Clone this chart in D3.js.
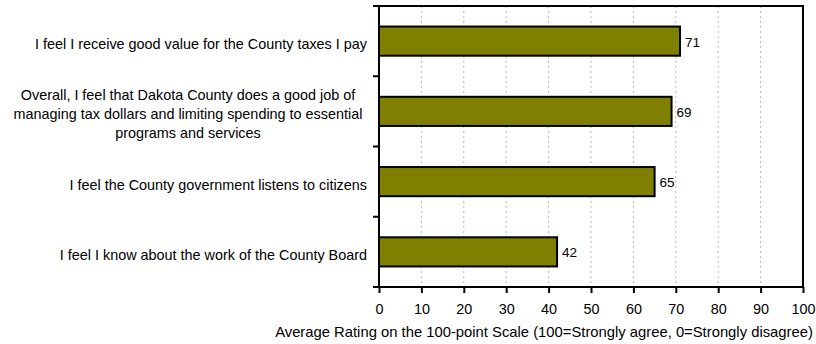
<!DOCTYPE html>
<html>
<head>
<meta charset="utf-8">
<script src="https://cdn.jsdelivr.net/npm/d3@7/dist/d3.min.js"></script>
<style>
  html, body { margin: 0; padding: 0; background: #fff; }
  svg { display: block; font-family: "Liberation Sans", Arial, sans-serif; }
</style>
</head>
<body>
<svg id="chart" width="816" height="344"></svg>
<script>
// Survey statements (each entry is a list of wrapped lines)
const categories = [
  ["I feel I receive good value for the County taxes I pay"],
  ["Overall, I feel that Dakota County does a good job of",
   "managing tax dollars and limiting spending to essential",
   "programs and services"],
  ["I feel the County government listens to citizens"],
  ["I feel I know about the work of the County Board"]
];
const ratings = [71, 69, 65, 42];
const tickValues = [0, 10, 20, 30, 40, 50, 60, 70, 80, 90, 100];
const axisTitle = "Average Rating on the 100-point Scale (100=Strongly agree, 0=Strongly disagree)";

const svg = d3.select("#chart");
const m = { left: 379, right: 803, top: 6, bottom: 287 };
const fontSize = 14.4;

const x = d3.scaleLinear().domain([0, 100]).range([m.left, m.right]);
const y = d3.scaleBand()
  .domain(d3.range(categories.length))
  .range([m.top, m.bottom])
  .paddingInner(0.585)
  .paddingOuter(0.2925);

// vertical dotted gridlines
svg.append("g")
  .selectAll("line")
  .data(tickValues.filter(d => d > 0 && d < 100))
  .join("line")
  .attr("x1", d => x(d)).attr("x2", d => x(d))
  .attr("y1", m.top).attr("y2", m.bottom)
  .attr("stroke", "#b8b8b8")
  .attr("stroke-width", 1)
  .attr("stroke-dasharray", "2,3");

// bars
svg.append("g")
  .selectAll("rect")
  .data(ratings)
  .join("rect")
  .attr("x", x(0))
  .attr("y", (d, i) => y(i))
  .attr("width", d => x(d) - x(0))
  .attr("height", y.bandwidth())
  .attr("fill", "#808000")
  .attr("stroke", "#000")
  .attr("stroke-width", 2);

// value labels
svg.append("g")
  .selectAll("text")
  .data(ratings)
  .join("text")
  .attr("x", d => x(d) + 5)
  .attr("y", (d, i) => y(i) + y.bandwidth() / 2 + 1)
  .attr("dominant-baseline", "central")
  .attr("font-size", 13.5)
  .attr("fill", "#000")
  .text(d => d);

// plot frame (top and right)
svg.append("path")
  .attr("d", `M${m.left},${m.top}H${m.right}V${m.bottom}`)
  .attr("fill", "none")
  .attr("stroke", "#000")
  .attr("stroke-width", 2);

// bottom axis
const xAxis = d3.axisBottom(x).tickValues(tickValues).tickSize(6).tickPadding(11)
  .tickFormat(d3.format("d"));
const gx = svg.append("g").attr("transform", `translate(0,${m.bottom})`).call(xAxis);
gx.select(".domain").attr("stroke-width", 2).attr("d", `M${m.left},0H${m.right}`);
gx.selectAll(".tick line").attr("stroke-width", 2);
gx.selectAll(".tick text")
  .attr("font-size", fontSize)
  .attr("font-family", "Liberation Sans, Arial, sans-serif")
  .attr("fill", "#000");

// left axis: band boundary ticks
const step = y.step();
const bounds = d3.range(categories.length + 1).map(i => m.top + i * step);
svg.append("g")
  .selectAll("line")
  .data(bounds)
  .join("line")
  .attr("x1", m.left - 6).attr("x2", m.left)
  .attr("y1", d => d).attr("y2", d => d)
  .attr("stroke", "#000").attr("stroke-width", 2);
svg.append("line")
  .attr("x1", m.left).attr("x2", m.left)
  .attr("y1", m.top).attr("y2", m.bottom)
  .attr("stroke", "#000").attr("stroke-width", 2);

// category labels: single lines right aligned, wrapped ones centred as a block
const lineH = 19;
svg.append("g")
  .selectAll("text")
  .data(categories)
  .join("text")
  .attr("font-size", fontSize)
  .attr("fill", "#000")
  .each(function (lines, i) {
    const cy = y(i) + y.bandwidth() / 2 + 3;
    const multi = lines.length > 1;
    const t = d3.select(this).attr("text-anchor", multi ? "middle" : "end");
    lines.forEach((ln, k) => {
      t.append("tspan")
        .attr("x", multi ? 188 : 367)
        .attr("y", cy + (k - (lines.length - 1) / 2) * lineH)
        .attr("dominant-baseline", "central")
        .text(ln);
    });
  });

// axis title
svg.append("text")
  .attr("x", 544)
  .attr("y", 332)
  .attr("text-anchor", "middle")
  .attr("dominant-baseline", "central")
  .attr("font-size", 14.8)
  .attr("fill", "#000")
  .text(axisTitle);
</script>
</body>
</html>
